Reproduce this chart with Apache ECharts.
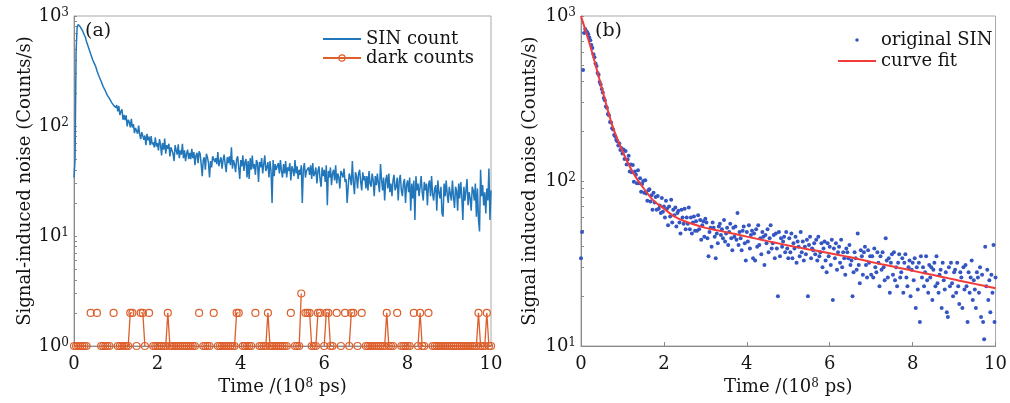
<!DOCTYPE html>
<html>
<head>
<meta charset="utf-8">
<script src="https://cdn.jsdelivr.net/npm/echarts@6/dist/echarts.min.js"></script>
<style>
html, body { margin: 0; padding: 0; background: #fff; }
#chart { width: 1010px; height: 403px; }
</style>
</head>
<body>
<div id="chart"></div>
<script>
// time axis in units of 1e8 ps
const xTicks = [0, 2, 4, 6, 8, 10];
const leftDecades = [1, 10, 100, 1000];
const rightDecades = [10, 100, 1000];

// SIN counts, one sample every 0.025 (x 1e8 ps)
const sinStep = 0.025;
const sinCounts = [
  34, 49, 470, 790, 835, 812, 798, 776, 741, 712, 668, 640, 586, 562, 515, 498, 452, 441, 398, 384,
  361, 344, 318, 309, 283, 278, 255, 250, 228, 226, 209, 205, 190, 187, 178, 174, 164, 169, 154, 158, 147,
  155, 136, 152, 126, 135, 142, 114, 126, 113, 125, 99, 114, 109, 97, 116, 97, 104, 86, 96, 100,
  85, 101, 84, 76, 88, 89, 75, 82, 67, 85, 74, 80, 67, 81, 68, 71, 64, 79, 65, 70,
  60, 76, 68, 54, 70, 61, 77, 56, 67, 62, 69, 53, 64, 66, 56, 48, 67, 60, 55, 68,
  51, 60, 55, 69, 51, 60, 48, 56, 61, 50, 57, 50, 62, 51, 58, 44, 54, 57, 46, 59,
  56, 45, 35, 49, 52, 40, 56, 52, 46, 34, 48, 42, 53, 55, 47, 51, 45, 58, 43, 48,
  52, 41, 49, 55, 45, 38, 52, 46, 53, 44, 64, 41, 49, 45, 38, 50, 53, 42, 33, 49,
  43, 54, 39, 47, 50, 34, 48, 33, 51, 40, 54, 41, 45, 36, 49, 46, 31, 47, 42, 51,
  37, 45, 54, 39, 42, 47, 34, 48, 39, 20, 49, 35, 45, 40, 43, 46, 37, 49, 39, 34,
  45, 37, 48, 34, 42, 39, 46, 32, 43, 40, 35, 49, 37, 43, 33, 40, 36, 44, 20, 41,
  46, 34, 39, 38, 42, 36, 44, 33, 46, 35, 37, 42, 30, 39, 43, 33, 28, 42, 35, 40,
  31, 44, 19, 39, 34, 42, 29, 37, 40, 32, 44, 30, 37, 34, 27, 39, 37, 34, 41, 31,
  33, 20, 28, 37, 34, 29, 48, 31, 24, 38, 35, 27, 37, 40, 31, 26, 38, 32, 35, 27,
  35, 26, 39, 30, 28, 37, 32, 23, 35, 29, 37, 30, 25, 45, 33, 26, 34, 21, 32, 36,
  27, 37, 25, 30, 23, 32, 36, 26, 28, 34, 21, 32, 36, 26, 23, 30, 33, 20, 29, 32,
  25, 34, 17, 30, 22, 32, 14, 35, 26, 30, 23, 28, 35, 25, 21, 31, 26, 30, 19, 29,
  32, 23, 35, 24, 21, 27, 29, 17, 32, 25, 22, 28, 16, 15, 30, 23, 32, 24, 20, 28,
  29, 21, 32, 23, 18, 28, 26, 17, 30, 22, 31, 23, 14, 28, 21, 26, 33, 19, 25, 22,
  17, 28, 26, 21, 30, 15, 27, 14, 11, 40, 23, 29, 19, 25, 16, 27, 21, 41, 14, 26
];

// fitted curve, every 0.25
const fitStep = 0.25;
const fitCounts = [
  1000, 625, 367, 219, 152, 113, 91, 76, 68, 61, 57, 54.3, 52, 50.4, 49, 47.5, 46, 44.6, 43.2, 41.9,
  40.7, 39.6, 38.5, 37.5, 36.5, 35.5, 34.5, 33.4, 32.3, 31.3, 30.4, 29.5, 28.6, 27.7, 26.9, 26.1,
  25.3, 24.5, 23.8, 23.1, 22.4
];

// dark counts, every 0.05; null = zero count (not drawn on log axis)
const darkStep = 0.05;
const darkCounts = [
  1, 1, 1, 1, 1, 1, 1, null, 2, null, null, 2, null, 1, 1, 1, 1, 1, null, 2,
  null, 1, 1, 1, 1, 1, 1, 2, 2, null, 1, null, 2, 2, 1, null, 2, null, 1, 1,
  1, 1, 1, 1, 1, 2, 1, 1, 1, 1, 1, 1, 1, 1, 1, 1, 1, 1, 1, null,
  2, null, 1, 1, 1, 1, null, 2, null, 1, 1, 1, 1, 1, 1, 1, 1, 1, 2, 2,
  null, 1, 1, 1, 1, 1, null, 2, null, 1, 1, 1, 1, 2, 1, 1, 1, 1, 1, 1,
  1, 1, 1, null, 2, null, 1, 1, 1, 3, null, 2, 2, 2, 1, 1, 1, 2, 2, null,
  1, 2, 2, 1, 1, null, 2, null, 1, null, 2, null, 1, 2, 2, null, 1, null, 2, null,
  1, 1, 1, 1, 1, 1, 1, 1, 1, 1, 2, 1, 1, 1, null, 2, null, 1, 1, 1,
  1, 1, null, 2, null, 1, 2, 1, 1, null, 2, null, 1, 1, 1, 1, 1, 1, 1, 1,
  1, 1, 1, 1, 1, 1, 1, 1, 1, 1, 1, 1, 1, 1, 2, 1, 1, 1, 2, 1,
  1
];

const sinData = sinCounts.map((v, i) => [+(i * sinStep).toFixed(3), v]);
const fitData = fitCounts.map((v, i) => [i * fitStep, v]);
const darkData = darkCounts.map((v, i) => [+(i * darkStep).toFixed(2), v]);

function minorTicks(from, to) {
  const out = [];
  for (let d = from; d < to; d *= 10) {
    for (let k = 1; k < 10; k++) out.push(d * k);
  }
  out.push(to);
  return out;
}

const font = 'DejaVu Serif';
const ink = '#151515';
const axisGray = '#8a8a8a';
const fs = 18;
const sup = { fontSize: 12, lineHeight: 12, verticalAlign: 'top', fontFamily: font, color: ink };

function decadeLabel(v) {
  return '10{s|' + Math.round(Math.log10(v)) + '}';
}

function xAxisFor(idx) {
  return {
    type: 'value', gridIndex: idx, min: 0, max: 10, interval: 2,
    name: 'Time /(10{s|8} ps)', nameLocation: 'middle', nameGap: 31,
    nameTextStyle: { fontFamily: font, fontSize: fs, color: ink, rich: { s: sup } },
    axisLine: { lineStyle: { color: axisGray, width: 1 } },
    axisTick: { inside: true, length: 4, lineStyle: { color: axisGray } },
    axisLabel: { margin: 9, fontFamily: font, fontSize: fs, color: ink },
    splitLine: { show: false }
  };
}

function yAxisFor(idx, min, max, name, decades, gap) {
  return {
    type: 'log', logBase: 10, gridIndex: idx, min: min, max: max,
    name: name, nameLocation: 'middle', nameGap: gap,
    nameTextStyle: { fontFamily: font, fontSize: fs, color: ink },
    axisLine: { show: true, lineStyle: { color: axisGray, width: 1 } },
    axisTick: { inside: true, length: 3, customValues: minorTicks(min, max), lineStyle: { color: axisGray } },
    axisLabel: {
      margin: 5, customValues: decades, formatter: decadeLabel,
      fontFamily: font, fontSize: fs, color: ink, rich: { s: sup }
    },
    splitLine: { show: false },
    minorTick: { show: false }
  };
}

const blue = '#2277bb';
const orange = '#dd5f2c';
const dotBlue = '#3556c2';
const fitRed = '#f23b3b';
const hidden = { color: 'rgba(0,0,0,0)', borderColor: 'rgba(0,0,0,0)' };
const titleStyle = { fontFamily: font, fontSize: 19, fontWeight: 'normal', color: ink };

const chart = echarts.init(document.getElementById('chart'), null, { renderer: 'canvas' });
chart.setOption({
  backgroundColor: '#ffffff',
  animation: false,
  title: [
    { text: '(a)', left: 85, top: 22, padding: 0, textStyle: titleStyle },
    { text: '(b)', left: 595, top: 22, padding: 0, textStyle: titleStyle }
  ],
  legend: [
    {
      data: [
        { name: 'SIN count', itemStyle: hidden },
        { name: 'dark counts', itemStyle: { color: 'rgba(0,0,0,0)', borderColor: orange, borderWidth: 1.2 } }
      ],
      orient: 'vertical', left: 322, top: 30,
      itemWidth: 38, itemHeight: 8, itemGap: 1, padding: 0,
      textStyle: { fontFamily: font, fontSize: fs, color: ink }
    },
    {
      data: ['original SIN', { name: 'curve fit', itemStyle: hidden }],
      orient: 'vertical', left: 837, top: 31,
      itemWidth: 38, itemHeight: 3.5, itemGap: 3, padding: 0,
      textStyle: { fontFamily: font, fontSize: fs, color: ink }
    }
  ],
  grid: [
    { left: 74, top: 16, width: 417, height: 330, show: true, borderColor: '#a8a8a8', borderWidth: 1 },
    { left: 581, top: 16, width: 418, height: 330, show: true, borderColor: '#a8a8a8', borderWidth: 1 }
  ],
  xAxis: [xAxisFor(0), xAxisFor(1)],
  yAxis: [
    yAxisFor(0, 1, 1000, 'Signal-induced noise (Counts/s)', leftDecades, 40),
    yAxisFor(1, 10, 1000, 'Signal induced noise (Counts/s)', rightDecades, 42)
  ],
  series: [
    {
      name: 'SIN count', type: 'line', xAxisIndex: 0, yAxisIndex: 0, data: sinData,
      symbol: 'none', showSymbol: false,
      lineStyle: { color: blue, width: 1.5 }, itemStyle: { color: blue }, z: 3
    },
    {
      name: 'dark counts', type: 'line', xAxisIndex: 0, yAxisIndex: 0, data: darkData,
      symbol: 'circle', symbolSize: 7, showSymbol: true, connectNulls: false, clip: false,
      showAllSymbol: true,
      lineStyle: { color: orange, width: 1.3 },
      itemStyle: { color: 'rgba(0,0,0,0)', borderColor: orange, borderWidth: 1.2 }, z: 2
    },
    {
      name: 'original SIN', type: 'scatter', xAxisIndex: 1, yAxisIndex: 1, data: sinData,
      symbolSize: 4, itemStyle: { color: dotBlue, opacity: 1 }, z: 2
    },
    {
      name: 'curve fit', type: 'line', xAxisIndex: 1, yAxisIndex: 1, data: fitData,
      smooth: 0.3, symbol: 'none', showSymbol: false,
      lineStyle: { color: fitRed, width: 2 }, itemStyle: { color: fitRed }, z: 3
    }
  ]
});
</script>
</body>
</html>
